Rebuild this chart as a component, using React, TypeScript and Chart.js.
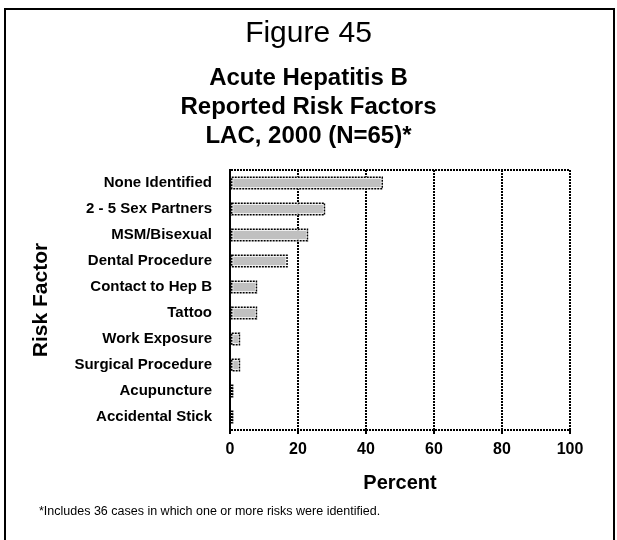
import { useEffect, useRef } from 'react';
import { Chart, registerables } from 'chart.js';

Chart.register(...registerables);

const FONT = '"Liberation Sans", Arial, Helvetica, sans-serif';

const figureLabel = 'Figure 45';
const titleLines = ['Acute Hepatitis B', 'Reported Risk Factors', 'LAC, 2000 (N=65)*'];

const riskFactors = [
  'None Identified',
  '2 - 5 Sex Partners',
  'MSM/Bisexual',
  'Dental Procedure',
  'Contact to Hep B',
  'Tattoo',
  'Work Exposure',
  'Surgical Procedure',
  'Acupuncture',
  'Accidental Stick',
];
const percentOfCases = [45, 28, 23, 17, 8, 8, 3, 3, 1, 1];

const percentMin = 0;
const percentMax = 100;
const percentStep = 20;

const yAxisTitle = 'Risk Factor';
const xAxisTitle = 'Percent';
const footnote = '*Includes 36 cases in which one or more risks were identified.';

// Dotted black outline around each bar, traced from the bar elements' geometry.
const dottedBarOutline = {
  id: 'dottedBarOutline',
  afterDatasetsDraw(chart: any) {
    const { ctx } = chart;
    const meta = chart.getDatasetMeta(0);
    ctx.save();
    ctx.strokeStyle = '#000';
    ctx.lineWidth = 1.5;
    ctx.setLineDash([2, 1]);
    meta.data.forEach((bar: any) => {
      const { x, y, base, height } = bar.getProps(['x', 'y', 'base', 'height'], true);
      const left = Math.min(x, base);
      const right = Math.max(x, base);
      const top = y - height / 2;
      ctx.strokeRect(left + 0.75, top + 0.75, right - left - 1.5, height - 1.5);
    });
    ctx.restore();
  },
};

const footnotePlugin = {
  id: 'footnote',
  afterDraw(chart: Chart) {
    const { ctx } = chart;
    ctx.save();
    ctx.font = `12.5px ${FONT}`;
    ctx.fillStyle = '#000';
    ctx.textAlign = 'left';
    ctx.textBaseline = 'middle';
    ctx.fillText(footnote, 39, 512);
    ctx.restore();
  },
};

export default function App() {
  const canvasRef = useRef<HTMLCanvasElement | null>(null);

  useEffect(() => {
    const canvas = canvasRef.current;
    if (!canvas) return;
    Chart.defaults.font.family = FONT;
    Chart.defaults.color = '#000';

    const dotted = [2, 1];
    const chart = new Chart(canvas, {
      type: 'bar',
      data: {
        labels: riskFactors,
        datasets: [
          {
            data: percentOfCases,
            backgroundColor: '#c0c0c0',
            borderColor: '#fff',
            borderWidth: 2.25,
            borderSkipped: false,
            barPercentage: 0.5,
            categoryPercentage: 1,
          },
        ],
      },
      options: {
        indexAxis: 'y',
        responsive: false,
        animation: false,
        devicePixelRatio: 1,
        layout: { padding: { left: 0, right: 0, top: 0, bottom: 40 } },
        plugins: {
          legend: { display: false },
          tooltip: { enabled: false },
          title: {
            display: true,
            text: figureLabel,
            color: '#000',
            font: { size: 30, weight: 'normal', lineHeight: 1.2 },
            padding: { top: 16, bottom: 0 },
          },
          subtitle: {
            display: true,
            text: titleLines,
            color: '#000',
            font: { size: 24, weight: 'bold', lineHeight: '29px' },
            padding: { top: 12, bottom: 19 },
          },
        },
        scales: {
          x: {
            type: 'linear',
            min: percentMin,
            max: percentMax,
            afterFit(scale: any) {
              scale.height = 70;
            },
            ticks: {
              stepSize: percentStep,
              padding: 6,
              color: '#000',
              font: { size: 16, weight: 'bold' },
            },
            grid: {
              color: '#000',
              lineWidth: 2,
              tickLength: 4,
              tickColor: '#000',
              tickWidth: 2,
            },
            border: { display: false, dash: dotted },
            title: {
              display: true,
              text: xAxisTitle,
              color: '#000',
              font: { size: 20, weight: 'bold', lineHeight: 1.2 },
              padding: { top: 0, bottom: 5 },
            },
          },
          y: {
            type: 'category',
            afterFit(scale: any) {
              scale.width = 230;
            },
            ticks: {
              padding: 18,
              color: '#000',
              font: { size: 15, weight: 'bold' },
            },
            grid: {
              offset: true,
              drawTicks: false,
              lineWidth: 2,
              color: (ctx: any) =>
                ctx.type === 'scale' || ctx.index === 0 ? '#000' : 'rgba(0,0,0,0)',
            },
            border: { display: true, color: '#000', width: 2, dash: dotted },
            title: {
              display: true,
              text: yAxisTitle,
              color: '#000',
              font: { size: 21, weight: 'bold', lineHeight: 1.2 },
              padding: { top: 29, bottom: 0 },
            },
          },
          // Empty right-hand margin so the titles stay centred on the whole figure.
          margin: {
            type: 'linear',
            position: 'right',
            min: 0,
            max: 1,
            afterFit(scale: any) {
              scale.width = 47;
            },
            ticks: { display: false },
            grid: { display: false, drawTicks: false },
            border: { display: false },
          },
        },
      },
      plugins: [dottedBarOutline, footnotePlugin],
    } as any);

    return () => chart.destroy();
  }, []);

  return (
    <div
      style={{
        position: 'absolute',
        left: 0,
        top: 0,
        width: 617,
        height: 540,
        overflow: 'hidden',
        background: '#fff',
      }}
    >
      <div
        style={{
          position: 'absolute',
          left: 4,
          top: 8,
          width: 611,
          height: 600,
          boxSizing: 'border-box',
          border: '2px solid #000',
        }}
      />
      <canvas
        ref={canvasRef}
        width={617}
        height={540}
        style={{ position: 'absolute', left: 0, top: 0, width: 617, height: 540 }}
      />
    </div>
  );
}
